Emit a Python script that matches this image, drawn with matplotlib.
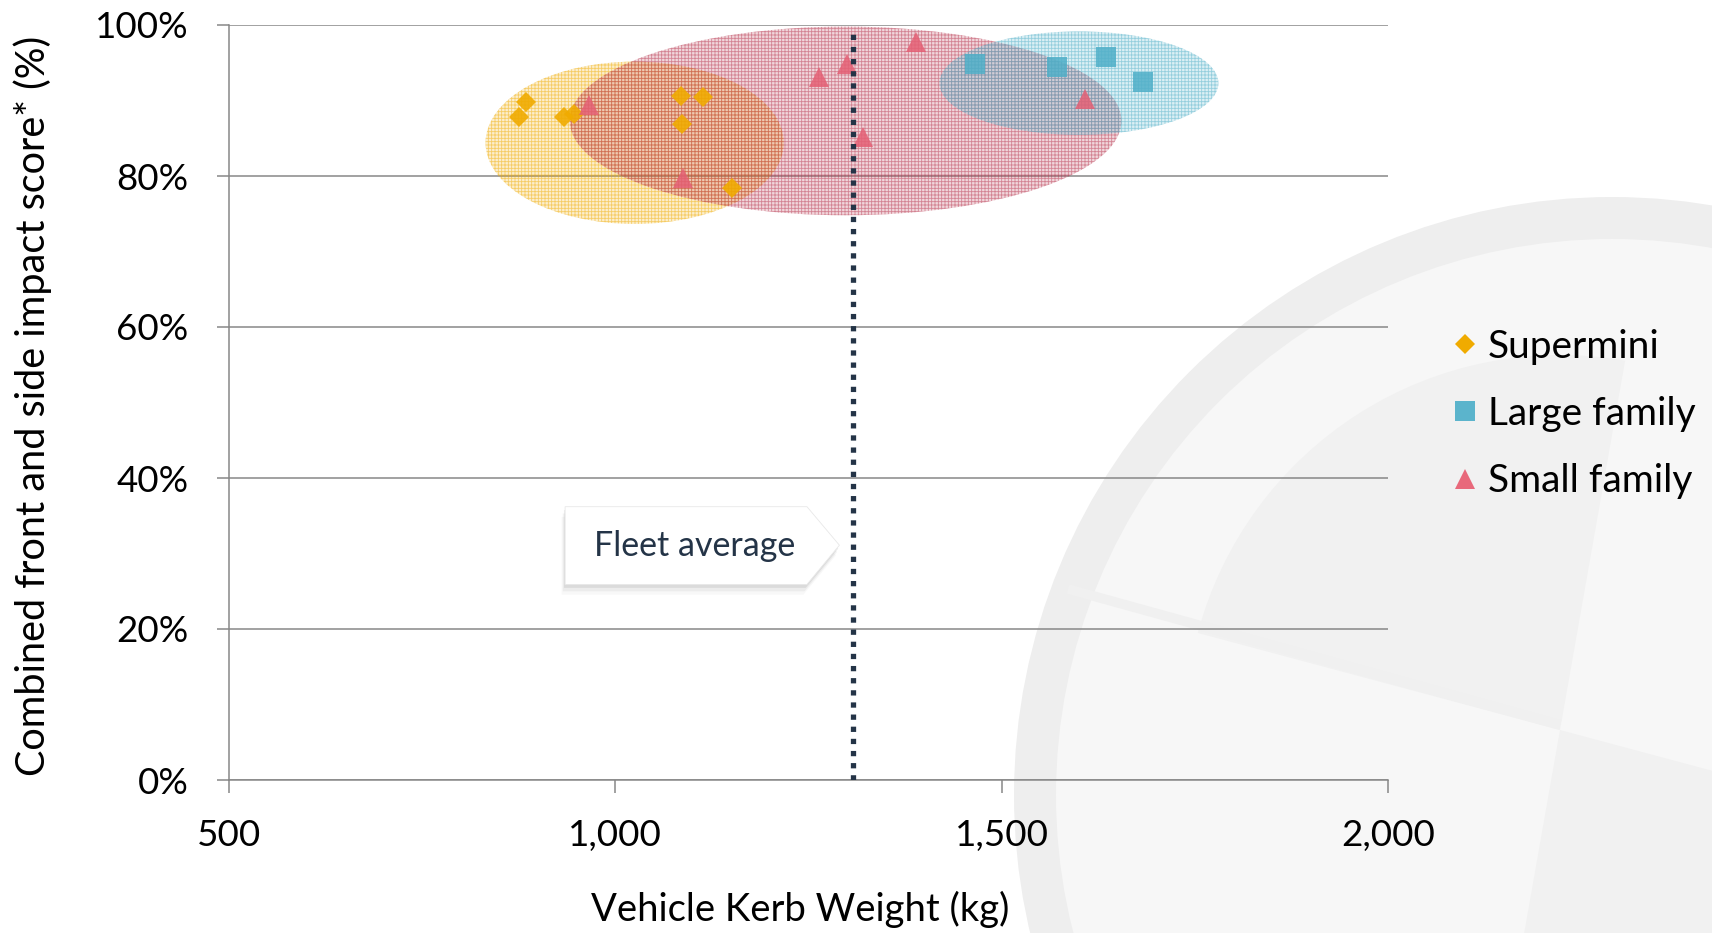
import numpy as np
import matplotlib.pyplot as plt
from matplotlib.patches import Ellipse, Polygon, Circle, Wedge
from matplotlib.lines import Line2D

plt.rcParams['font.family'] = ['Lato', 'DejaVu Sans']
plt.rcParams['hatch.linewidth'] = 0.6

# kerb weight (kg) and combined impact score (%) per segment
supermini_kg = [885, 875, 934, 947, 1085, 1114, 1086, 1151]
supermini_score = [89.8, 87.8, 87.8, 88.2, 90.6, 90.4, 86.9, 78.4]

large_kg = [1466, 1571, 1635, 1683]
large_score = [94.8, 94.4, 95.7, 92.5]

small_kg = [966, 1088, 1263, 1300, 1321, 1389, 1608]
small_score = [89.4, 79.7, 93.1, 94.9, 85.2, 97.7, 90.2]

fleet_average_kg = 1307

# segment spread: (centre kg, centre %, width kg, height %)
supermini_spread = (1025, 84.4, 386, 21.5)
small_spread = (1298, 87.3, 714, 25.0)
large_spread = (1600, 92.3, 361, 13.7)

x_ticks = [500, 1000, 1500, 2000]
x_tick_labels = ['500', '1,000', '1,500', '2,000']
y_ticks = [0, 20, 40, 60, 80, 100]
y_tick_labels = ['0%', '20%', '40%', '60%', '80%', '100%']

c_supermini = '#F0AB00'
c_large = '#4FAFC8'
c_small = '#E45F74'
navy = '#243447'
grid_grey = '#878787'

fig = plt.figure(figsize=(17.12, 9.33), dpi=100)

# faint roundel in the background, drawn in pixel units
bg = fig.add_axes([0, 0, 1, 1], zorder=0)
bg.set_xlim(0, 1712)
bg.set_ylim(0, 933)
bg.axis('off')
bg.add_patch(Circle((1612, 138), 598, facecolor='#EEEEEE', edgecolor='none'))
bg.add_patch(Circle((1612, 138), 556, facecolor='#F7F7F7', edgecolor='none'))
bg.add_patch(Wedge((1560, 203), 375, 80, 165, facecolor='#F1F1F1', edgecolor='none'))
bg.add_patch(Wedge((1560, 203), 375, 260, 345, facecolor='#F1F1F1', edgecolor='none'))
bg.plot([1068, 1560], [344, 208], color='#F0F0F0', lw=7, solid_capstyle='butt')

ax = fig.add_axes([229 / 1712, 1 - 780 / 933, 1159 / 1712, 755 / 933], zorder=1)
ax.set_facecolor('none')

for spread, c in [(supermini_spread, c_supermini), (small_spread, '#B8334D'), (large_spread, c_large)]:
    cx, cy, w, h = spread
    ax.add_patch(Ellipse((cx, cy), w, h, facecolor=c, alpha=0.2, edgecolor='none', zorder=2))
    ax.add_patch(Ellipse((cx, cy), w, h, facecolor='none', edgecolor=c, alpha=0.5,
                         hatch='+++++', lw=0, zorder=2))

ax.plot(supermini_kg, supermini_score, 'D', color=c_supermini, ms=10, mew=0, alpha=0.9, zorder=4)
ax.plot(large_kg, large_score, 's', color=c_large, ms=14.5, mew=0, alpha=0.85, zorder=4)
ax.plot(small_kg, small_score, '^', color=c_small, ms=14.5, mew=0, alpha=0.85, zorder=4)

ax.plot([fleet_average_kg, fleet_average_kg], [0, 99], color=navy, lw=3.8,
        linestyle=(0, (1, 1.3)), dash_capstyle='butt', zorder=5)

# callout pointing at the fleet average line
tip = fleet_average_kg - 17
box = [(935, 36.2), (1248, 36.2), (tip, 31.1), (1248, 25.9), (935, 25.9)]
for k, a in enumerate([0.04, 0.07, 0.11]):
    off = 3 - k
    shadow = [(x - off * 1.5, y - off * 0.45) for x, y in box]
    ax.add_patch(Polygon(shadow, closed=True, facecolor='#555555', alpha=a, edgecolor='none', zorder=5))
ax.add_patch(Polygon(box, closed=True, facecolor='white', edgecolor='#E8E8E8', lw=0.6, zorder=6))
ax.text(1102, 31.0, 'Fleet average', ha='center', va='center', fontsize=24.5, color=navy, zorder=7)

ax.set_xlim(500, 2000)
ax.set_ylim(0, 100)
ax.set_xticks(x_ticks)
ax.set_xticklabels(x_tick_labels)
ax.set_yticks(y_ticks)
ax.set_yticklabels(y_tick_labels)
ax.grid(axis='y', color=grid_grey, lw=1.1)
ax.set_axisbelow(True)
for side in ['top', 'right']:
    ax.spines[side].set_visible(False)
for side in ['left', 'bottom']:
    ax.spines[side].set_color(grid_grey)
    ax.spines[side].set_linewidth(1.1)
ax.tick_params(axis='x', length=9, width=1.1, color=grid_grey, pad=19, labelsize=26.5)
ax.tick_params(axis='y', length=9, width=1.1, color=grid_grey, pad=20, labelsize=26.5)
ax.set_xlabel('Vehicle Kerb Weight (kg)', fontsize=27.5, va='center')
ax.set_ylabel('Combined front and side impact score* (%)', fontsize=28.5, va='center')
ax.xaxis.set_label_coords(0.4927, -0.171)
ax.yaxis.set_label_coords(-0.169, 0.495)

handles = [
    Line2D([], [], marker='D', ls='none', color=c_supermini, ms=10, mew=0),
    Line2D([], [], marker='s', ls='none', color='#5BB4CC', ms=14, mew=0),
    Line2D([], [], marker='^', ls='none', color='#E8697B', ms=14, mew=0),
]
ax.legend(handles, ['Supermini', 'Large family', 'Small family'], loc='center left',
          bbox_to_anchor=(1453 / 1712, 1 - 414 / 933), bbox_transform=fig.transFigure,
          frameon=False, fontsize=28, borderpad=0, borderaxespad=0, handlelength=0.62,
          handletextpad=0.28, labelspacing=0.8)

fig.savefig('out.png', dpi=100)
